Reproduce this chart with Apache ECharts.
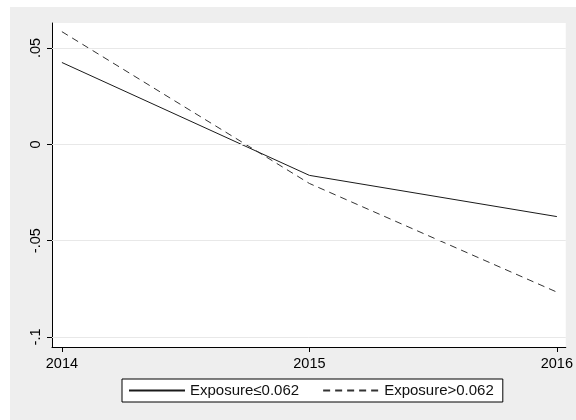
<!DOCTYPE html>
<html lang="en">
<head>
<meta charset="UTF-8">
<style>
  html, body { height: 100%; margin: 0; background: #fff; }
</style>
</head>
<body>
<div id="chart" style="width:576px;height:420px;"></div>
<script src="https://cdn.jsdelivr.net/npm/echarts@6/dist/echarts.min.js"></script>
<script>
var years = [2014, 2015, 2016];
var lowExposure = [0.0425, -0.0161, -0.0375];
var highExposure = [0.0585, -0.0203, -0.0767];
var yTicks = [-0.1, -0.05, 0, 0.05];
var yTickLabels = ['-.1', '-.05', '0', '.05'];
var seriesNames = ['Exposure\u22640.062', 'Exposure>0.062'];

function pairs(xs, ys) {
    return xs.map(function (x, i) { return [x, ys[i]]; });
}

var myChart = echarts.init(document.getElementById('chart'));
myChart.setOption({
    animation: false,
    textStyle: { fontFamily: 'Liberation Sans, Arial, sans-serif' },
    graphic: [{
        type: 'rect', z: -10,
        shape: { x: 10, y: 7, width: 566, height: 413 },
        style: { fill: '#eeeeee' }
    }],
    grid: {
        left: 52, right: 6, top: 23, bottom: 73,
        show: true, backgroundColor: '#fff', borderWidth: 0
    },
    legend: {
        left: 122, top: 379,
        padding: [4, 9, 4, 6],
        itemGap: 23,
        itemWidth: 56,
        itemHeight: 10,
        borderColor: '#000', borderWidth: 1,
        backgroundColor: '#fff',
        itemStyle: { opacity: 0 },
        textStyle: { fontSize: 15, color: '#111' },
        data: seriesNames
    },
    xAxis: {
        type: 'value',
        min: 2013.96, max: 2016.036,
        axisLine: { onZero: false, lineStyle: { color: '#000', width: 1 } },
        axisTick: { show: true, length: 5, customValues: years, lineStyle: { color: '#000' } },
        axisLabel: {
            customValues: years, color: '#000', fontSize: 14.5, margin: 9,
            formatter: function (v) { return String(Math.round(v)); }
        },
        splitLine: { show: false }
    },
    yAxis: {
        type: 'value',
        min: -0.1052, max: 0.063,
        axisLine: { show: true, lineStyle: { color: '#000', width: 1 } },
        axisTick: { show: true, length: 5, customValues: yTicks, lineStyle: { color: '#000' } },
        axisLabel: {
            customValues: yTicks, rotate: 90, color: '#000', fontSize: 14.5, margin: 9,
            formatter: function (v) {
                var i = yTicks.findIndex(function (t) { return Math.abs(t - v) < 1e-9; });
                return i >= 0 ? yTickLabels[i] : '';
            }
        },
        splitLine: { show: false }
    },
    series: [{
        name: seriesNames[0],
        type: 'line',
        symbol: 'none',
        data: pairs(years, lowExposure),
        lineStyle: { color: '#1a1a1a', width: 1 },
        itemStyle: { color: '#1a1a1a' },
        markLine: {
            silent: true, symbol: 'none', label: { show: false },
            lineStyle: { color: '#e8e8e8', type: 'solid', width: 1 },
            data: yTicks.map(function (t) { return { yAxis: t }; })
        },
        z: 3
    }, {
        name: seriesNames[1],
        type: 'line',
        symbol: 'none',
        data: pairs(years, highExposure),
        lineStyle: { color: '#333', width: 1, type: [7, 5] },
        itemStyle: { color: '#333' },
        z: 3
    }]
});
</script>
</body>
</html>
